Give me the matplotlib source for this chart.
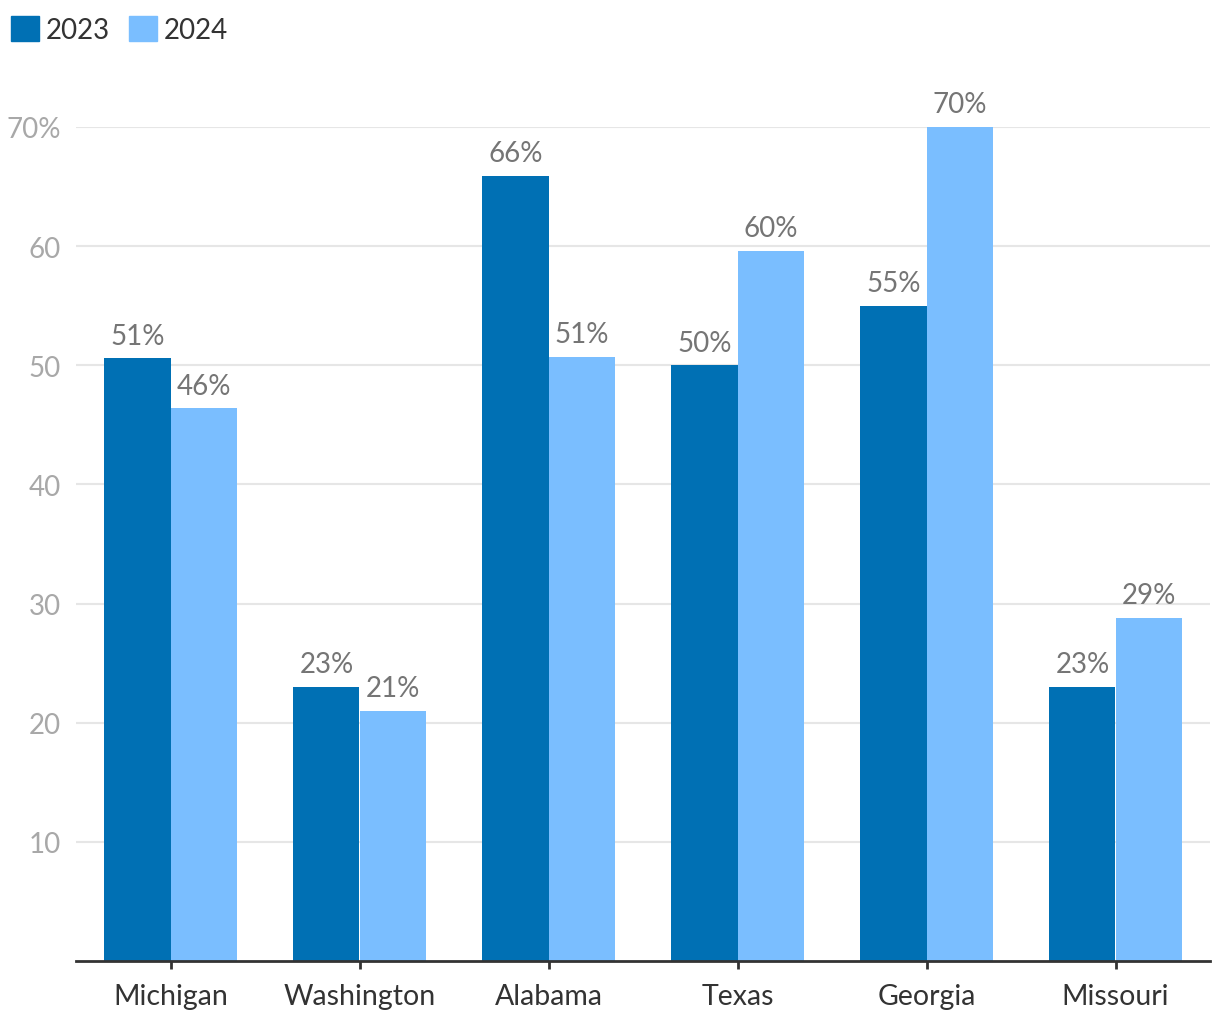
import numpy as np
import matplotlib.pyplot as plt
from matplotlib.patches import Patch

plt.rcParams['font.family'] = ['Lato', 'DejaVu Sans']

# Dados
states = ["Michigan", "Washington", "Alabama", "Texas", "Georgia", "Missouri"]
values_2023 = [50.6, 23.0, 65.9, 50.0, 55.0, 23.0]
values_2024 = [46.4, 21.0, 50.7, 59.6, 70.0, 28.8]
years = ["2023", "2024"]
yticks = [10, 20, 30, 40, 50, 60, 70]
ytick_labels = ["10", "20", "30", "40", "50", "60", "70%"]

color_2023 = "#0070b4"
color_2024 = "#7abeff"

fig = plt.figure(figsize=(12.2, 10.2), dpi=100)
ax = fig.add_axes([76 / 1220, 1 - 962 / 1020, (1210 - 76) / 1220, (962 - 128) / 1020])

x = np.arange(len(states))
w = 0.35
bars1 = ax.bar(x - w / 2, values_2023, w, color=color_2023, linewidth=0, zorder=2)
bars2 = ax.bar(x + w / 2, values_2024, w, color=color_2024, linewidth=0, zorder=2)

# Rótulos das barras
for bars, vals in ((bars1, values_2023), (bars2, values_2024)):
    for b, v in zip(bars, vals):
        ax.annotate(f"{v:.0f}%", (b.get_x() + b.get_width() / 2, b.get_height()),
                    xytext=(0, 10.5), textcoords="offset points",
                    ha="center", va="baseline", fontsize=20, color="#757575")

ax.set_xlim(-0.5, len(states) - 0.5)
ax.set_ylim(0, 70)
ax.set_yticks(yticks)
ax.set_yticklabels(ytick_labels)
ax.set_xticks(x)
ax.set_xticklabels(states)

ax.grid(axis="y", color="#e6e6e6", linewidth=1.5, zorder=0)
for s in ("top", "right", "left"):
    ax.spines[s].set_visible(False)
ax.spines["bottom"].set_color("#333333")
ax.spines["bottom"].set_linewidth(2)
ax.spines["bottom"].set_zorder(3)

ax.tick_params(axis="y", length=0, pad=11, labelsize=20, labelcolor="#a8a8a8")
ax.tick_params(axis="x", length=6, width=2, color="#333333", pad=10,
               labelsize=20.5, labelcolor="#333333")

handles = [Patch(color=color_2023), Patch(color=color_2024)]
fig.legend(handles, years, loc="upper left", bbox_to_anchor=(0.0, 0.994),
           ncol=2, frameon=False, fontsize=20, labelcolor="#333333",
           handlelength=1.0, handleheight=1.0, handletextpad=0.25,
           columnspacing=0.7, borderaxespad=0.15, borderpad=0.25)

fig.savefig("out.png", dpi=100)
plt.close()
